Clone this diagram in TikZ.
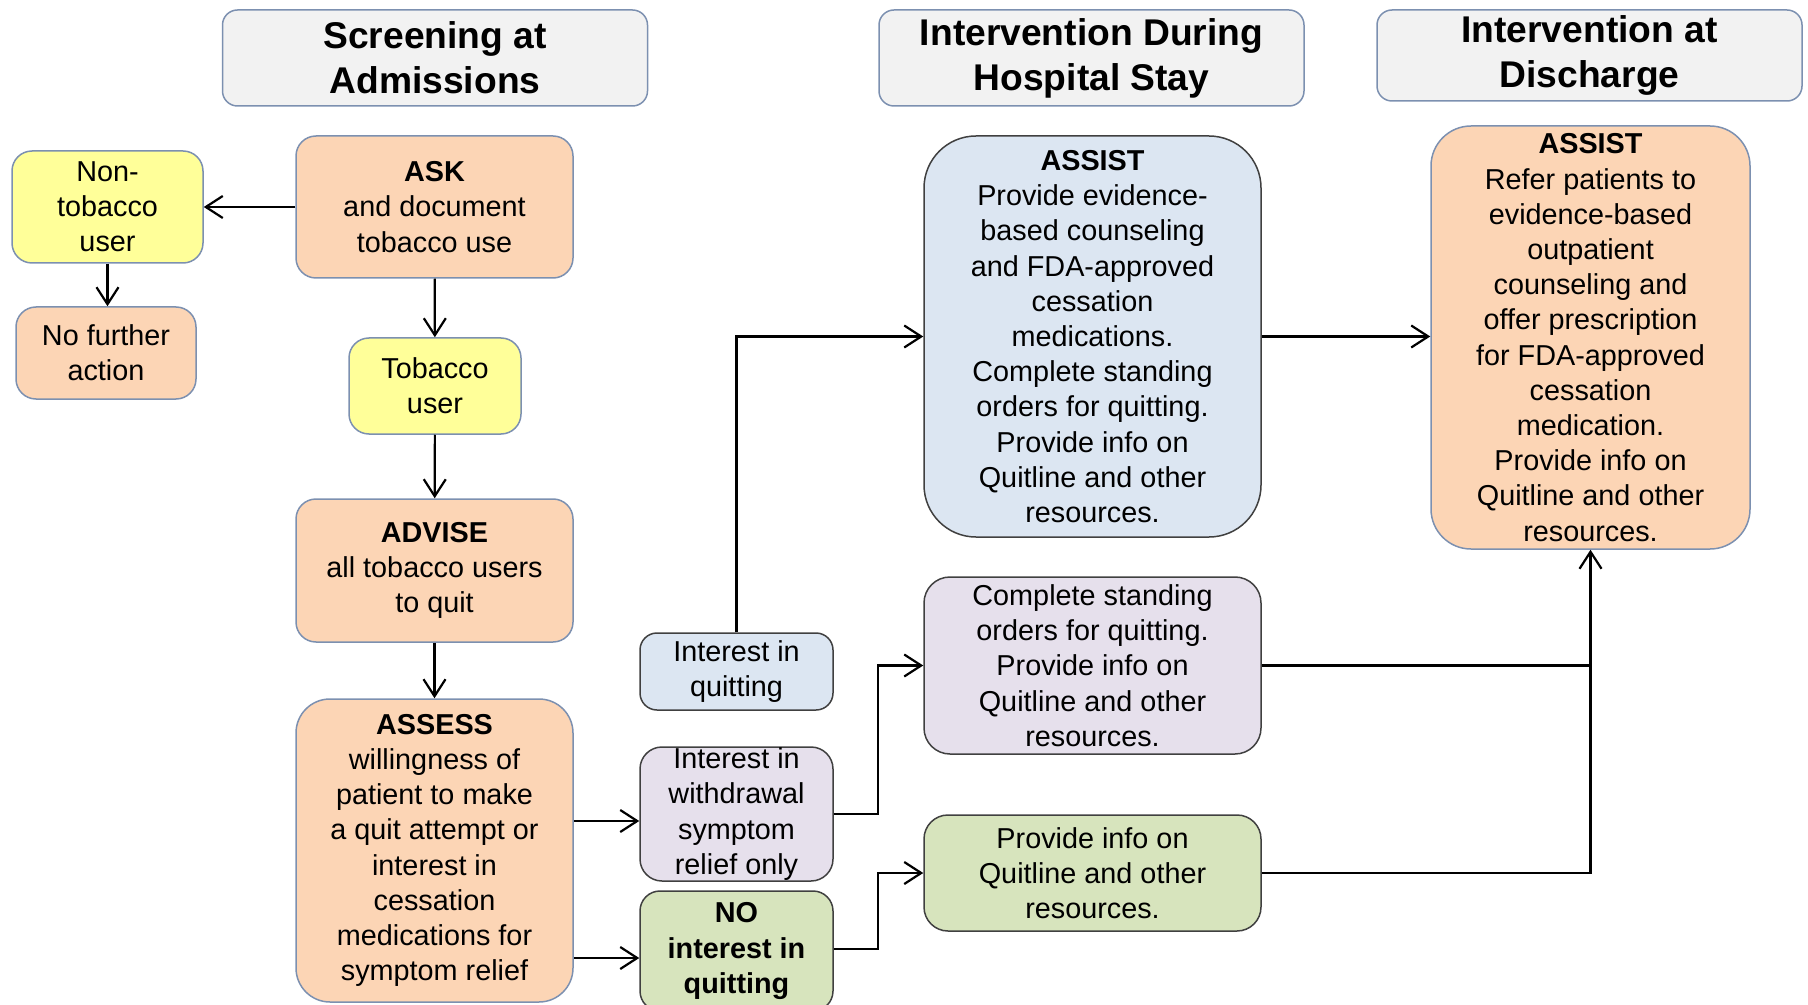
\documentclass[tikz,border=0pt]{standalone}
\usepackage{fontspec}
\setmainfont{Liberation Sans}
\usetikzlibrary{arrows.meta}
\usetikzlibrary{positioning}
\definecolor{peach}{RGB}{252,213,181}
\definecolor{lemon}{RGB}{255,255,153}
\definecolor{skyblue}{RGB}{220,230,242}
\definecolor{lilac}{RGB}{230,224,236}
\definecolor{sage}{RGB}{215,228,189}
\definecolor{headgray}{RGB}{242,242,242}
\definecolor{slate}{RGB}{124,144,176}
\definecolor{darkline}{RGB}{64,64,64}

\begin{document}
\begin{tikzpicture}
	[x=0.5pt, y=-0.5pt,
	> = {Straight Barb[length=8.5pt,width=11pt,line width=1.1pt]},
	every node/.style={font=\fontsize{14.4}{17.6}\selectfont, align=center, inner sep=0pt},
	box/.style = {draw=slate, line width=0.75pt, rounded corners=10pt},
	darkbox/.style = {box, draw=darkline},
	head/.style = {box, fill=headgray, rounded corners=7.5pt, minimum width=212.5pt,
		font=\fontsize{18.6}{22.5}\selectfont\bfseries},
	link/.style = {line width=1.1pt}
	]
	\useasboundingbox (0,0) rectangle (1808,1005);

	% column headers
	\node[head, minimum height=48pt] (hscreen) at (435,58) {Screening at\\Admissions};
	\node[head, minimum height=48pt] (hstay) at (1091.5,58) {Intervention During\\Hospital Stay};
	\node[head, minimum height=45.5pt] (hdischarge) at (1589.5,55.5) {Intervention at\\Discharge};

	% screening
	\node[box, fill=peach, minimum width=138.5pt, minimum height=71pt] (ask) at (434.5,207)
		{\textbf{ASK}\\and document\\tobacco use};
	\node[box, fill=lemon, minimum width=95.5pt, minimum height=56pt] (nontob) at (107.5,207)
		{Non-\\tobacco\\user};
	\node[box, fill=peach, minimum width=90pt, minimum height=46pt] (nofurther) at (106,353)
		{No further\\action};
	\node[box, fill=lemon, minimum width=86pt, minimum height=48pt] (tobuser) at (435,386)
		{Tobacco\\user};
	\node[box, fill=peach, minimum width=138.5pt, minimum height=71.5pt] (advise) at (434.5,570.5)
		{\textbf{ADVISE}\\all tobacco users\\to quit};
	\node[box, fill=peach, rounded corners=17pt, minimum width=138.5pt, minimum height=151.5pt] (assess) at (434.5,850.5)
		{\textbf{ASSESS}\\willingness of\\patient to make\\a quit attempt or\\interest in\\cessation\\medications for\\symptom relief};

	% readiness
	\node[darkbox, fill=skyblue, rounded corners=8.5pt, minimum width=96.5pt, minimum height=38.5pt] (quitting) at (736.5,671.5)
		{Interest in\\quitting};
	\node[darkbox, fill=lilac, rounded corners=11pt, minimum width=96.5pt, minimum height=67pt] (relief) at (736.5,814)
		{Interest in\\withdrawal\\symptom\\relief only};
	\node[darkbox, fill=sage, rounded corners=10pt, minimum width=96.5pt, minimum height=60pt,
		font=\fontsize{14.4}{17.6}\selectfont\bfseries] (nointerest) at (736.5,951)
		{NO\\interest in\\quitting};

	% hospital stay
	\node[darkbox, fill=skyblue, rounded corners=26pt, minimum width=168.5pt, minimum height=200.5pt] (assiststay) at (1092.5,336.5)
		{\textbf{ASSIST}\\Provide evidence-\\based counseling\\and FDA-approved\\cessation\\medications.\\Complete standing\\orders for quitting.\\Provide info on\\Quitline and other\\resources.};
	\node[darkbox, fill=lilac, rounded corners=13pt, minimum width=168.5pt, minimum height=88.5pt] (orders) at (1092.5,665.5)
		{Complete standing\\orders for quitting.\\Provide info on\\Quitline and other\\resources.};
	\node[darkbox, fill=sage, rounded corners=12pt, minimum width=168.5pt, minimum height=58pt] (info) at (1092.5,873)
		{Provide info on\\Quitline and other\\resources.};

	% discharge
	\node[box, fill=peach, rounded corners=20pt, minimum width=159.5pt, minimum height=211.5pt] (assistout) at (1590.5,337.5)
		{\textbf{ASSIST}\\Refer patients to\\evidence-based\\outpatient\\counseling and\\offer prescription\\for FDA-approved\\cessation\\medication.\\Provide info on\\Quitline and other\\resources.};

	% connectors
	\draw[link, ->] (ask) -- (nontob);
	\draw[link, ->] (nontob.south) -- (nontob.south |- nofurther.north);
	\draw[link, ->] (ask) -- (tobuser);
	\draw[link, ->] (tobuser) -- (advise);
	\draw[link, ->] (advise) -- (assess);
	\draw[link, ->] ([yshift=-3.5pt]assess.east |- relief.west) -- ([yshift=-3.5pt]relief.west);
	\draw[link, ->] ([yshift=-3.5pt]assess.east |- nointerest.west) -- ([yshift=-3.5pt]nointerest.west);
	\draw[link, ->] (quitting.north) |- (assiststay.west);
	\draw[link, ->] (relief.east) -- ++(44,0) |- (orders.west);
	\draw[link, ->] ([yshift=1pt]nointerest.east) -- ++(44,0) |- (info.west);
	\draw[link, ->] (assiststay.east) -- (assiststay.east -| assistout.west);
	\draw[link] (orders.east) -- (orders.east -| assistout.south);
	\draw[link, ->] (info.east) -| (assistout.south);
\end{tikzpicture}
\end{document}
